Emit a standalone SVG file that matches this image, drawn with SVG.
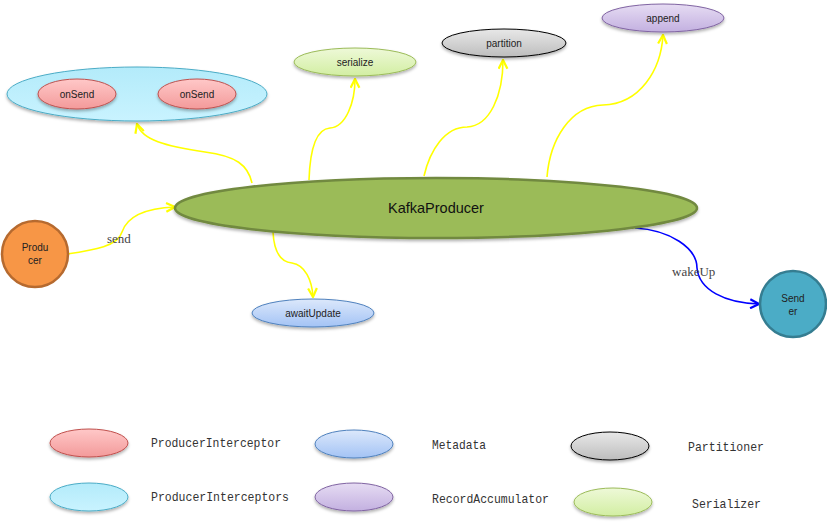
<svg xmlns="http://www.w3.org/2000/svg" width="827" height="525" viewBox="0 0 827 525">
<style>
.lbl{font-family:"Liberation Sans",Arial,sans-serif;font-size:10px;fill:#222;text-anchor:middle}
.big{font-family:"Liberation Sans",Arial,sans-serif;font-size:14.5px;fill:#111;text-anchor:middle}
.edge{font-family:"Liberation Serif","Times New Roman",serif;font-size:13px;fill:#444}
.leg{font-family:"Liberation Mono","Courier New",monospace;font-size:13px;fill:#333}
.y{fill:none;stroke:#ffff00;stroke-width:1.6}
.b{fill:none;stroke:#0000ff;stroke-width:1.6}
</style>
<defs>
<marker id="ay" viewBox="0 0 10 10" refX="9" refY="5" markerUnits="userSpaceOnUse" markerWidth="11" markerHeight="11" orient="auto">
<path d="M1,1 L9,5 L1,9" fill="none" stroke="#ffff00" stroke-width="2"/>
</marker>
<marker id="ab" viewBox="0 0 10 10" refX="9" refY="5" markerUnits="userSpaceOnUse" markerWidth="11" markerHeight="11" orient="auto">
<path d="M1,1 L9,5 L1,9" fill="none" stroke="#0000ff" stroke-width="2"/>
</marker>
<linearGradient id="gPink" x1="0" y1="0" x2="0" y2="1"><stop offset="0" stop-color="#ffc8c8"/><stop offset="1" stop-color="#f39a9a"/></linearGradient>
<linearGradient id="gCyan" x1="0" y1="0" x2="0" y2="1"><stop offset="0" stop-color="#b3ebfa"/><stop offset="1" stop-color="#c9f3ff"/></linearGradient>
<linearGradient id="gGreen" x1="0" y1="0" x2="0" y2="1"><stop offset="0" stop-color="#eef9d8"/><stop offset="1" stop-color="#d2eea2"/></linearGradient>
<linearGradient id="gGray" x1="0" y1="0" x2="0" y2="1"><stop offset="0" stop-color="#e8e8e8"/><stop offset="1" stop-color="#bdbdbd"/></linearGradient>
<linearGradient id="gPurple" x1="0" y1="0" x2="0" y2="1"><stop offset="0" stop-color="#e6dcf3"/><stop offset="1" stop-color="#c3b0e0"/></linearGradient>
<linearGradient id="gBlue" x1="0" y1="0" x2="0" y2="1"><stop offset="0" stop-color="#dce8fb"/><stop offset="1" stop-color="#a3c3f5"/></linearGradient>
<filter id="sh" x="-10%" y="-20%" width="120%" height="150%"><feDropShadow dx="0" dy="2" stdDeviation="1.5" flood-color="#000" flood-opacity="0.3"/></filter>
</defs>

<g id="connectors">
<path class="y" d="M252,183 C248,165 236,156 205,152 C165,146 142,140 137,124" marker-end="url(#ay)"/>
<path class="y" d="M309,180 C310,150 316,129 330,128 C346,127 355,102 355,79" marker-end="url(#ay)"/>
<path class="y" d="M424,176 C430,150 445,127 467,127 C490,126 503,95 503,60" marker-end="url(#ay)"/>
<path class="y" d="M547,177 C550,140 570,106 603,105 C640,104 661,70 663,35" marker-end="url(#ay)"/>
<path class="y" d="M67,254 C95,250 118,246 122,232 C128,214 150,208 175,207" marker-end="url(#ay)"/>
<path class="y" d="M273,232 C274,252 281,262 292,263 C305,265 312,280 313,297" marker-end="url(#ay)"/>
<path class="b" d="M635,228 C670,230 697,248 697,268 C699,290 725,303 759,304" marker-end="url(#ab)"/>
<text class="edge" x="107" y="243">send</text>
<text class="edge" x="672" y="276">wakeUp</text>
</g>

<g id="interceptors">
<ellipse cx="137" cy="94" rx="130" ry="27" fill="url(#gCyan)" stroke="#4bacc6" stroke-width="1" filter="url(#sh)"/>
</g>
<g id="onSend1">
<ellipse cx="77" cy="94" rx="39" ry="15" fill="url(#gPink)" stroke="#c0504d" stroke-width="1" filter="url(#sh)"/>
<text class="lbl" x="77" y="98">onSend</text>
</g>
<g id="onSend2">
<ellipse cx="197" cy="94" rx="39" ry="15" fill="url(#gPink)" stroke="#c0504d" stroke-width="1" filter="url(#sh)"/>
<text class="lbl" x="197" y="98">onSend</text>
</g>
<g id="serialize">
<ellipse cx="355" cy="62" rx="61" ry="14" fill="url(#gGreen)" stroke="#9bbb59" stroke-width="1" filter="url(#sh)"/>
<text class="lbl" x="355" y="66">serialize</text>
</g>
<g id="partition">
<ellipse cx="504" cy="43" rx="62" ry="14" fill="url(#gGray)" stroke="#000" stroke-width="1" filter="url(#sh)"/>
<text class="lbl" x="504" y="47">partition</text>
</g>
<g id="append">
<ellipse cx="663" cy="18" rx="61" ry="14" fill="url(#gPurple)" stroke="#8064a2" stroke-width="1" filter="url(#sh)"/>
<text class="lbl" x="663" y="22">append</text>
</g>
<g id="kafkaProducer">
<ellipse cx="436" cy="208" rx="261" ry="30" fill="#9bbb59" stroke="#71893f" stroke-width="2.5" filter="url(#sh)"/>
<text class="big" x="436" y="213">KafkaProducer</text>
</g>
<g id="producer">
<circle cx="35" cy="254" r="33" fill="#f79646" stroke="#b66a2f" stroke-width="2.5"/>
<text class="lbl" x="35" y="251">Produ</text>
<text class="lbl" x="35" y="264">cer</text>
</g>
<g id="awaitUpdate">
<ellipse cx="313" cy="313" rx="61" ry="14" fill="url(#gBlue)" stroke="#4f81bd" stroke-width="1" filter="url(#sh)"/>
<text class="lbl" x="313" y="317">awaitUpdate</text>
</g>
<g id="sender">
<circle cx="793" cy="304" r="33" fill="#4bacc6" stroke="#357d91" stroke-width="2.5"/>
<text class="lbl" x="793" y="302">Send</text>
<text class="lbl" x="793" y="315">er</text>
</g>

<g id="legend">
<ellipse cx="89" cy="443" rx="39" ry="14" fill="url(#gPink)" stroke="#c0504d" filter="url(#sh)"/>
<text class="leg" x="151" y="447" textLength="130" lengthAdjust="spacingAndGlyphs">ProducerInterceptor</text>
<ellipse cx="354" cy="444" rx="39" ry="14" fill="url(#gBlue)" stroke="#4f81bd" filter="url(#sh)"/>
<text class="leg" x="432" y="449" textLength="54" lengthAdjust="spacingAndGlyphs">Metadata</text>
<ellipse cx="610" cy="446" rx="39" ry="14" fill="url(#gGray)" stroke="#000" filter="url(#sh)"/>
<text class="leg" x="688" y="451" textLength="76" lengthAdjust="spacingAndGlyphs">Partitioner</text>
<ellipse cx="89" cy="497" rx="39" ry="14" fill="url(#gCyan)" stroke="#4bacc6" filter="url(#sh)"/>
<text class="leg" x="151" y="501" textLength="138" lengthAdjust="spacingAndGlyphs">ProducerInterceptors</text>
<ellipse cx="354" cy="497" rx="39" ry="14" fill="url(#gPurple)" stroke="#8064a2" filter="url(#sh)"/>
<text class="leg" x="432" y="503" textLength="117" lengthAdjust="spacingAndGlyphs">RecordAccumulator</text>
<ellipse cx="613" cy="502" rx="39" ry="14" fill="url(#gGreen)" stroke="#9bbb59" filter="url(#sh)"/>
<text class="leg" x="692" y="508" textLength="69" lengthAdjust="spacingAndGlyphs">Serializer</text>
</g>
</svg>
